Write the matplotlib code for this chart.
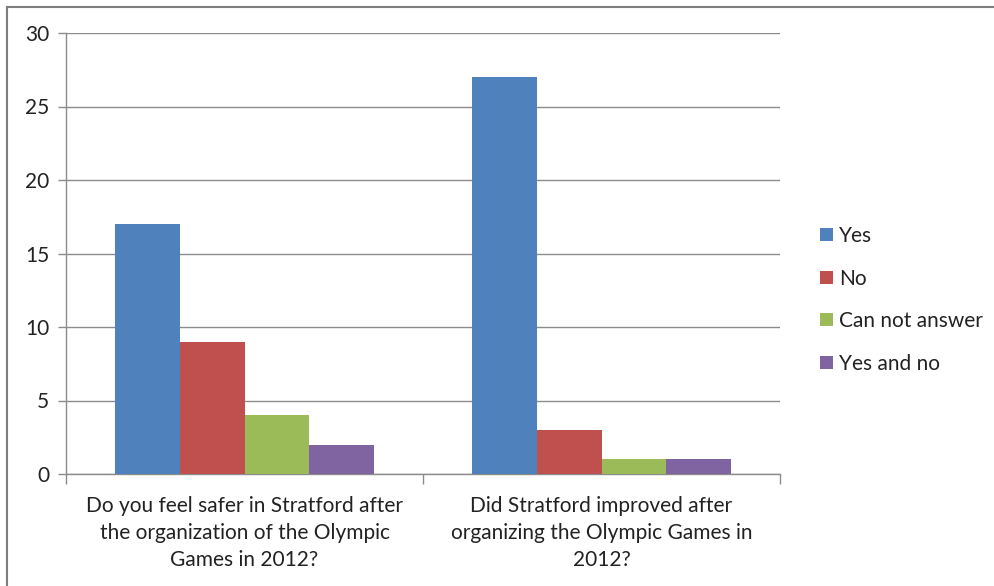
import numpy as np
import matplotlib.pyplot as plt
from matplotlib.lines import Line2D

plt.rcParams['font.family'] = ['Lato', 'DejaVu Sans']

# Survey questions (x categories)
questions = ["Do you feel safer in Stratford after\nthe organization of the Olympic\nGames in 2012?",
             "Did Stratford improved after\norganizing the Olympic Games in\n2012?"]

# Answer series
answers = ['Yes', 'No', 'Can not answer', 'Yes and no']
yes_vals = [17, 27]
no_vals = [9, 3]
cant_vals = [4, 1]
yes_no_vals = [2, 1]
colors = ['#4F81BD', '#C0504D', '#9BBB59', '#8064A2']

series = [yes_vals, no_vals, cant_vals, yes_no_vals]

fig = plt.figure(figsize=(9.94, 5.86), dpi=100)
ax = fig.add_axes([66/994, 1 - 474/586, (780 - 66)/994, (474 - 33)/586])

x = np.arange(len(questions))
w = 1 / 5.5
for i, vals in enumerate(series):
    ax.bar(x + (i - 1.5) * w, vals, width=w, color=colors[i],
           label=answers[i], zorder=3, edgecolor='none')

ax.set_xlim(-0.5, 1.5)
ax.set_ylim(0, 30)
ax.set_yticks(np.arange(0, 31, 5))
ax.yaxis.grid(True, color='#8c8c8c', linewidth=1.0, zorder=0)

# category labels in between boundary ticks
ax.set_xticks([-0.5, 0.5, 1.5])
ax.set_xticklabels([])
ax.tick_params(axis='x', length=7, color='#8c8c8c', width=1)
ax.tick_params(axis='y', length=6, color='#8c8c8c', width=1,
               labelsize=15, labelcolor='#222222', pad=6)
for xi, q in zip(x, questions):
    ax.text(xi, -1.5, q, ha='center', va='top', fontsize=15,
            color='#222222', linespacing=1.45, transform=ax.transData)

for s in ['top', 'right']:
    ax.spines[s].set_visible(False)
for s in ['left', 'bottom']:
    ax.spines[s].set_color('#8c8c8c')
    ax.spines[s].set_linewidth(1)

leg = ax.legend(loc='center left', bbox_to_anchor=(1.03, 0.395), frameon=False,
                fontsize=15, handlelength=0.6, handleheight=0.6,
                handletextpad=0.3, labelspacing=1.08)
for t in leg.get_texts():
    t.set_color('#222222')

# outer chart border (left and top visible)
fig.add_artist(Line2D([6.5/994, 6.5/994], [0, 1 - 6.5/586], color='#7f7f7f', linewidth=1.5))
fig.add_artist(Line2D([6.5/994, 1], [1 - 6.5/586, 1 - 6.5/586], color='#7f7f7f', linewidth=1.5))

fig.savefig('out.png', dpi=100)
